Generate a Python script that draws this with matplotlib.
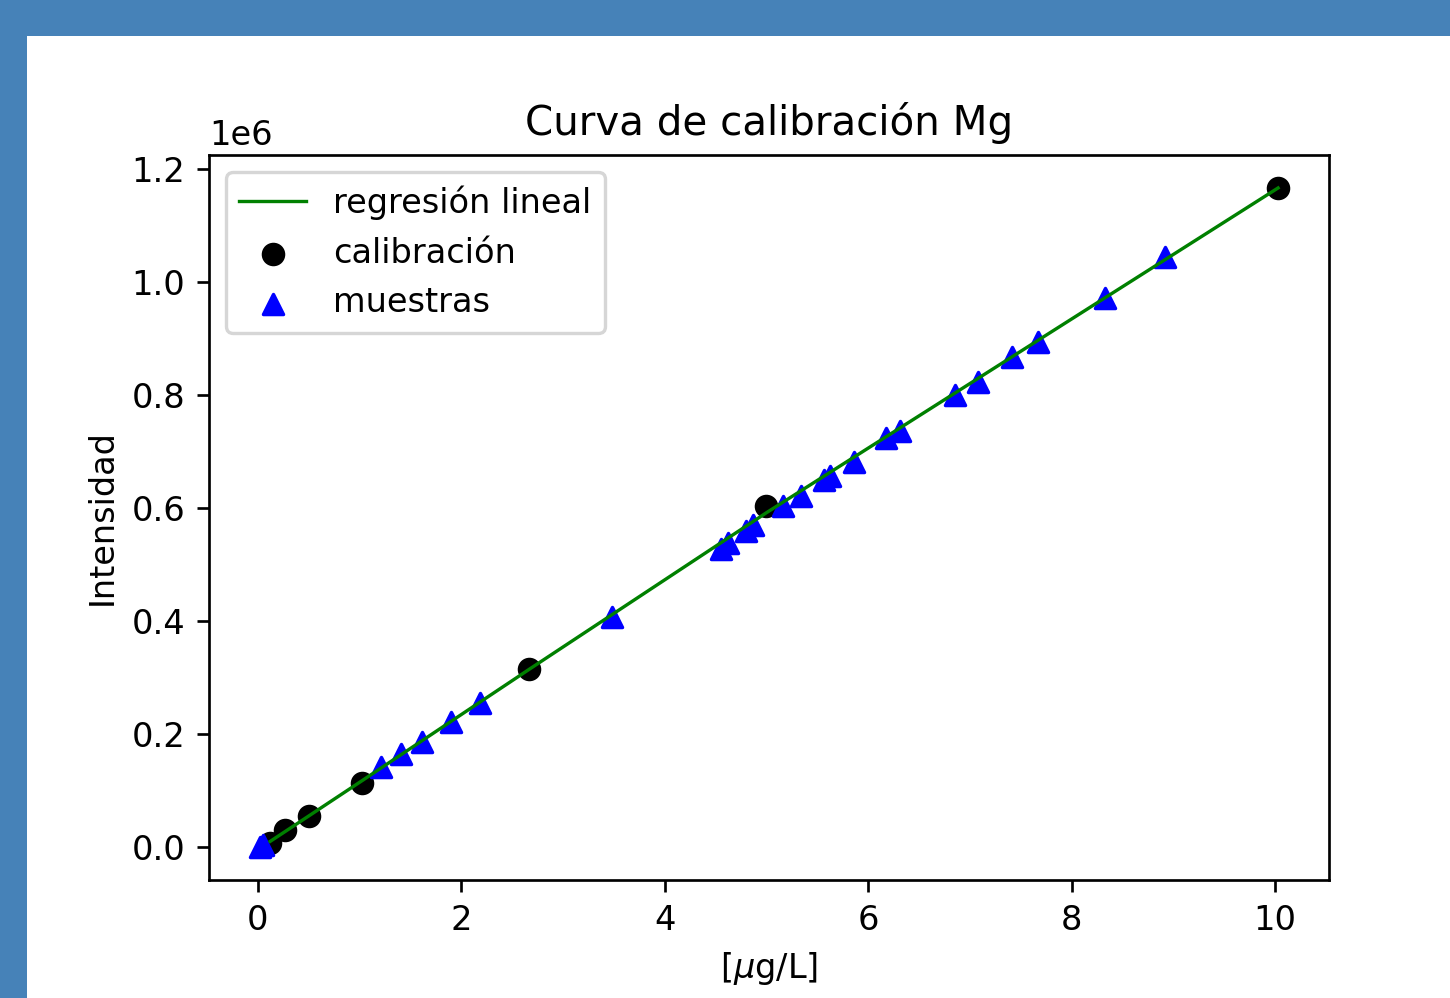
import numpy as np
import matplotlib
matplotlib.use("Agg")
import matplotlib.pyplot as plt
from matplotlib.patches import Rectangle

# Calibration standards
cal_x = [0.12, 0.27, 0.5, 1.02, 2.67, 5.0, 10.03]
cal_y = [0.008e6, 0.030e6, 0.055e6, 0.113e6, 0.316e6, 0.603e6, 1.167e6]

# Fitted (regression) values at the calibration concentrations
reg_y = [0.0099e6, 0.0277e6, 0.055e6, 0.117e6, 0.315e6, 0.592e6, 1.167e6]

# Samples
mue_x = [0.02, 0.05, 1.21, 1.41, 1.61, 1.90, 2.18, 3.48, 4.55, 4.62, 4.80, 4.87,
         5.16, 5.34, 5.57, 5.62, 5.86, 6.18, 6.31, 6.85, 7.08, 7.41, 7.67, 8.33, 8.92]
mue_y = [0.0, 0.004e6, 0.142e6, 0.165e6, 0.186e6, 0.222e6, 0.255e6, 0.408e6,
         0.528e6, 0.538e6, 0.560e6, 0.570e6, 0.603e6, 0.622e6, 0.650e6, 0.657e6,
         0.681e6, 0.725e6, 0.736e6, 0.801e6, 0.824e6, 0.867e6, 0.895e6, 0.973e6, 1.044e6]

title = "Curva de calibración Mg"
xlabel = r"[$\mu$g/L]"
ylabel = "Intensidad"

DPI = 242
fig = plt.figure(figsize=(1450 / DPI, 998 / DPI), dpi=DPI)
fig.patch.set_facecolor("#4682B8")
bg = Rectangle((27 / 1450, 0), 1, (998 - 36) / 998,
               transform=fig.transFigure, facecolor="white",
               edgecolor="none", zorder=-10)
fig.patches.append(bg)

ax = fig.add_axes([209 / 1450, (998 - 880) / 998, (1329 - 209) / 1450, (880 - 155) / 998])
ax.set_zorder(1)

ax.plot(cal_x, reg_y, color="g", lw=1.0, label="regresión lineal")
ax.scatter(cal_x, cal_y, color="k", marker="o", label="calibración")
ax.scatter(mue_x, mue_y, color="b", marker="^", label="muestras")

ax.set_title(title)
ax.set_xlabel(xlabel)
ax.set_ylabel(ylabel)
ax.set_yticks([0, 0.2e6, 0.4e6, 0.6e6, 0.8e6, 1.0e6, 1.2e6])
ax.set_xticks([0, 2, 4, 6, 8, 10])
ax.legend(loc="upper left")

fig.savefig("out.png", dpi=DPI, facecolor=fig.get_facecolor())
